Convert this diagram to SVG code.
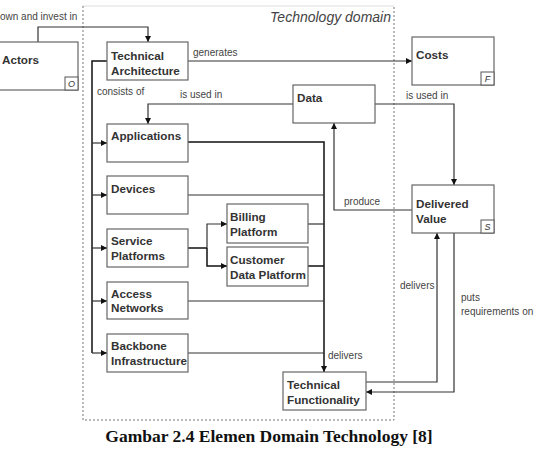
<svg xmlns="http://www.w3.org/2000/svg" width="541" height="450" viewBox="0 0 541 450">
<style>
.box{fill:#fff;stroke:#666;stroke-width:1.2}
.tag{fill:#fff;stroke:#555;stroke-width:1}
.t{font-family:"Liberation Sans",Arial,sans-serif;font-size:11.7px;font-weight:bold;fill:#333}
.l{font-family:"Liberation Sans",Arial,sans-serif;font-size:10px;fill:#444}
.tg{font-family:"Liberation Sans",Arial,sans-serif;font-size:9px;font-style:italic;fill:#333}
.c{fill:none;stroke:#333;stroke-width:1.2}
.b{fill:none;stroke:#111;stroke-width:1.5}
</style>
<defs>
<marker id="a" viewBox="0 0 8 8" refX="8" refY="4" markerWidth="6" markerHeight="6" markerUnits="userSpaceOnUse" orient="auto"><path d="M0,0L8,4L0,8z" fill="#111"/></marker>
</defs>
<rect width="541" height="450" fill="#fff"/>
<g id="domain">
<path d="M83,6H394" fill="none" stroke="#ddd" stroke-width="1"/>
<path d="M83,6V420H394V6" fill="none" stroke="#777" stroke-width="1" stroke-dasharray="2,2"/>
<text x="391" y="22" text-anchor="end" style="font-family:'Liberation Sans',Arial,sans-serif;font-size:14px;font-style:italic;fill:#444">Technology domain</text>
</g>
<g id="connectors">
<path class="c" d="M38,42V27H148V42" marker-end="url(#a)"/>
<path class="c" d="M188,61H412" marker-end="url(#a)"/>
<path class="c" d="M293,104H148V124" marker-end="url(#a)"/>
<path class="c" d="M375,104H454V185" marker-end="url(#a)"/>
<path class="b" d="M107,61H92V353"/>
<path class="c" d="M92,143H107" marker-end="url(#a)"/>
<path class="c" d="M92,195H107" marker-end="url(#a)"/>
<path class="c" d="M92,248H107" marker-end="url(#a)"/>
<path class="c" d="M92,301H107" marker-end="url(#a)"/>
<path class="c" d="M92,353H107" marker-end="url(#a)"/>
<path class="b" d="M188,248H207"/>
<path class="c" d="M207,248V224H227" marker-end="url(#a)"/>
<path class="b" d="M207,248V266H227" marker-end="url(#a)"/>
<path class="b" d="M188,142H324V372" marker-end="url(#a)"/>
<path class="c" d="M188,195H324"/>
<path class="c" d="M308,224H324"/>
<path class="b" d="M308,266H324"/>
<path class="c" d="M188,301H324"/>
<path class="c" d="M188,353H324"/>
<path class="c" d="M412,210H334V123" marker-end="url(#a)"/>
<path class="c" d="M366,382H437V233" marker-end="url(#a)"/>
<path class="c" d="M454,233V392H366" marker-end="url(#a)"/>
<text class="l" x="0" y="20">own and invest in</text>
<text class="l" x="193" y="56">generates</text>
<text class="l" x="97" y="95">consists of</text>
<text class="l" x="180" y="98">is used in</text>
<text class="l" x="406" y="99">is used in</text>
<text class="l" x="344" y="205">produce</text>
<text class="l" x="400" y="289">delivers</text>
<text class="l" x="461" y="301">puts</text>
<text class="l" x="461" y="315">requirements on</text>
<text class="l" x="328" y="359">delivers</text>
</g>
<g id="actors">
<rect class="box" x="-5" y="42" width="83" height="48"/>
<rect class="tag" x="65" y="77" width="13" height="13"/>
<text class="tg" x="71.5" y="87" text-anchor="middle">O</text>
<text class="t" x="2" y="64">Actors</text>
</g>
<g id="technical-architecture">
<rect class="box" x="107" y="42" width="81" height="38"/>
<text class="t" x="111" y="60">Technical</text>
<text class="t" x="111" y="75">Architecture</text>
</g>
<g id="costs">
<rect class="box" x="412" y="37" width="82" height="48"/>
<rect class="tag" x="481" y="72" width="13" height="13"/>
<text class="tg" x="487.5" y="82" text-anchor="middle">F</text>
<text class="t" x="416" y="59">Costs</text>
</g>
<g id="data">
<rect class="box" x="293" y="85" width="82" height="38"/>
<text class="t" x="297" y="102">Data</text>
</g>
<g id="applications">
<rect class="box" x="107" y="124" width="81" height="38"/>
<text class="t" x="111" y="140">Applications</text>
</g>
<g id="devices">
<rect class="box" x="107" y="176" width="81" height="38"/>
<text class="t" x="111" y="193">Devices</text>
</g>
<g id="service-platforms">
<rect class="box" x="107" y="229" width="81" height="38"/>
<text class="t" x="111" y="245">Service</text>
<text class="t" x="111" y="260">Platforms</text>
</g>
<g id="billing-platform">
<rect class="box" x="227" y="204" width="81" height="39"/>
<text class="t" x="230" y="221">Billing</text>
<text class="t" x="230" y="236">Platform</text>
</g>
<g id="customer-data-platform">
<rect class="box" x="227" y="247" width="81" height="39"/>
<text class="t" x="230" y="264">Customer</text>
<text class="t" x="230" y="279">Data Platform</text>
</g>
<g id="access-networks">
<rect class="box" x="107" y="282" width="81" height="37"/>
<text class="t" x="111" y="298">Access</text>
<text class="t" x="111" y="312">Networks</text>
</g>
<g id="backbone-infrastructure">
<rect class="box" x="107" y="334" width="81" height="38"/>
<text class="t" x="111" y="350">Backbone</text>
<text class="t" x="111" y="365">Infrastructure</text>
</g>
<g id="delivered-value">
<rect class="box" x="412" y="185" width="82" height="48"/>
<rect class="tag" x="481" y="220" width="13" height="13"/>
<text class="tg" x="487.5" y="230" text-anchor="middle">S</text>
<text class="t" x="416" y="208">Delivered</text>
<text class="t" x="416" y="223">Value</text>
</g>
<g id="technical-functionality">
<rect class="box" x="283" y="372" width="83" height="38"/>
<text class="t" x="287" y="389">Technical</text>
<text class="t" x="287" y="404">Functionality</text>
</g>
<text x="269" y="442" text-anchor="middle" style="font-family:'Liberation Serif','Times New Roman',serif;font-size:17.5px;font-weight:bold;fill:#111">Gambar 2.4 Elemen Domain Technology [8]</text>
</svg>
